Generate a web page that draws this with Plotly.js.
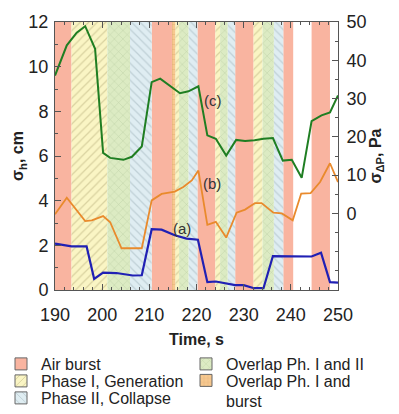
<!DOCTYPE html>
<html><head><meta charset="utf-8">
<script src="https://cdn.plot.ly/plotly-3.0.1.min.js"></script>
<style>html,body{margin:0;padding:0;background:#fff}</style>
</head><body><div id="chart" style="width:399px;height:414px"></div>
<script>
// ---- band intervals (time, s) ----
const burstStart     = [190.0, 210.5, 220.2, 228.2, 238.4, 244.4];
const burstEnd       = [193.5, 214.8, 224.0, 232.1, 240.5, 248.3];
const phase1Start    = [193.5, 215.5, 224.0, 232.1];
const phase1End      = [201.1, 216.3, 225.0, 234.0];
const overlap12Start = [201.1, 216.3, 225.0, 234.0];
const overlap12End   = [205.9, 218.3, 226.6, 236.4];
const phase2Start    = [205.9, 218.3, 226.6, 236.4];
const phase2End      = [210.5, 220.2, 228.2, 238.4];
const overlap1bStart = [214.8];
const overlap1bEnd   = [215.5];

// ---- series ----
const timeA = [190, 193.5, 196.7, 198.3, 200.2, 203, 206.5, 208.4, 210.5, 212.6, 215.4, 217.9, 220.3, 222.3, 224.1, 226, 228.2, 230, 232.2, 234.2, 236.2, 244.4, 246.4, 248.3, 250];
const valsA = [2.08, 1.95, 1.95, 0.5, 0.78, 0.76, 0.65, 0.66, 2.72, 2.7, 2.45, 2.3, 2.25, 0.35, 0.38, 0.3, 0.22, 0.22, 0.08, 0.08, 1.52, 1.5, 1.67, 0.35, 0.33];

const timeB = [190, 192.5, 196.4, 197.8, 200.2, 201.7, 204.1, 208.4, 210.5, 212.6, 215.4, 217.2, 219, 220.4, 222.3, 224.1, 226.3, 228.5, 230.3, 232.4, 233.8, 236.3, 238.1, 240.4, 242.2, 244.2, 246.2, 248.3, 250];
const valsB = [-0.2, 4.1, -2.0, -1.8, -0.7, -2.3, -9.1, -9.1, 3.4, 5.1, 5.7, 6.9, 8.6, 11.2, -3.0, -2.2, -6.3, 0.2, 1.0, 2.7, 2.7, 0.2, 0, -1.8, 5.2, 5.3, 8.2, 13.1, 8.2];

const timeC = [190, 192.5, 194.6, 196.4, 198.5, 200.2, 201.7, 204.5, 206.3, 208.4, 210.5, 212.3, 216.5, 218.3, 220.4, 222.3, 224.1, 226.3, 228.4, 230.3, 232.3, 234.2, 236.2, 238.3, 240.2, 242.3, 244.4, 246.5, 248.3, 250];
const valsC = [36, 43.9, 47.2, 48.9, 43, 15.8, 14.5, 14, 14.8, 17.5, 34.3, 35.2, 31.4, 31.9, 33.2, 20.4, 19.5, 15.1, 19.2, 18.9, 19.1, 19.5, 19.7, 13.8, 14, 9.3, 24.1, 25.6, 26.4, 30.8];

const rightTicks = [0, 10, 20, 30, 40, 50];

const yRange = [0, 12];
const y2Range = [-20, 50];
const xRange = [190, 250];

const FONT = 'Liberation Sans, Arial, Helvetica, sans-serif';
const AX = '#555';
const W = 399, H = 414, ML = 55, MR = 61, MT = 22, MB = 124;

const bandDefs = [
  {name:'Air burst', s:burstStart, e:burstEnd, pat:{shape:'', bgcolor:'#f9b4a0', fgcolor:'#f9b4a0'}, leg:'legend'},
  {name:'Phase I, Generation', s:phase1Start, e:phase1End, pat:{shape:'/', bgcolor:'#faf5c4', fgcolor:'#d9d2a0', size:6, solidity:0.2}, leg:'legend2'},
  {name:'Phase II, Collapse', s:phase2Start, e:phase2End, pat:{shape:'\\', bgcolor:'#dfedf2', fgcolor:'#bfd0d6', size:6, solidity:0.2}, leg:'legend3'},
  {name:'Overlap Ph. I and II', s:overlap12Start, e:overlap12End, pat:{shape:'x', bgcolor:'#dcebc3', fgcolor:'#bfd1a6', size:6, solidity:0.15}, leg:'legend4'},
  {name:'Overlap Ph. I and<br>burst', s:overlap1bStart, e:overlap1bEnd, pat:{shape:'+', bgcolor:'#f7c98f', fgcolor:'#dca872', size:5, solidity:0.15}, leg:'legend5'}
];

const traces = [];
bandDefs.forEach(b => {
  const cx = b.s.map((s,i)=> (s + b.e[i]) / 2);
  const w = b.s.map((s,i)=> b.e[i] - s);
  traces.push({
    type:'bar', name:b.name, showlegend:false, hoverinfo:'skip',
    x: cx, width: w,
    y: b.s.map(()=> yRange[1]),
    base: b.s.map(()=> yRange[0]),
    xaxis:'x', yaxis:'y',
    marker:{color:b.pat.bgcolor, line:{width:0}, pattern: Object.assign({fillmode:'replace'}, b.pat)}
  });
  traces.push({
    type:'bar', name:b.name, legend:b.leg, showlegend:true, hoverinfo:'skip',
    x: cx, width: w, y: b.s.map(()=> null),
    xaxis:'x', yaxis:'y',
    marker:{color:b.pat.bgcolor, line:{width:1, color:'#666'}, pattern: Object.assign({fillmode:'replace'}, b.pat)}
  });
});

traces.push({type:'scatter', mode:'lines', x:timeA, y:valsA, yaxis:'y', showlegend:false,
  line:{color:'#2020b4', width:2.2}});
traces.push({type:'scatter', mode:'lines', x:timeB, y:valsB, yaxis:'y2', showlegend:false,
  line:{color:'#e98a2c', width:1.8}});
traces.push({type:'scatter', mode:'lines', x:timeC, y:valsC, yaxis:'y2', showlegend:false,
  line:{color:'#1f7e22', width:2}});

function legendAt(px, py) {
  return {xref:'paper', yref:'paper', x:(px-ML)/(W-ML-MR), y:(H-MB-py)/(H-MT-MB), xanchor:'left', yanchor:'middle',
    bgcolor:'rgba(0,0,0,0)', borderwidth:0, valign:'top', font:{size:16, family:FONT, color:'#222'}};
}

const layout = {
  width:W, height:H,
  margin:{l:ML, r:MR, t:MT, b:MB, pad:0, autoexpand:false},
  paper_bgcolor:'#fff', plot_bgcolor:'#fff',
  font:{family:FONT, color:'#222'},
  barmode:'overlay',
  showlegend:true,
  legend: legendAt(1, 364),
  legend2: legendAt(1, 381),
  legend3: legendAt(1, 398),
  legend4: legendAt(186, 364),
  legend5: legendAt(186, 391),
  xaxis:{range:xRange, dtick:10, tick0:190, ticks:'inside', ticklen:6, tickcolor:AX,
    showline:true, linecolor:AX, linewidth:1, mirror:'ticks', showgrid:false, zeroline:false,
    tickfont:{size:18, color:'#222'}, ticklabelstandoff:8,
    minor:{dtick:2, ticks:'inside', ticklen:3, tickcolor:AX, showgrid:false},
    title:{text:'<b>Time, s</b>', font:{size:16, color:'#222'}, standoff:10}},
  yaxis:{range:yRange, dtick:2, tick0:0, ticks:'inside', ticklen:6, tickcolor:AX,
    showline:true, linecolor:AX, linewidth:1, mirror:true, showgrid:false, zeroline:false,
    tickfont:{size:18, color:'#222'}, ticklabelstandoff:2,
    minor:{dtick:1, ticks:'inside', ticklen:3, tickcolor:AX, showgrid:false},
    title:{text:'<b>σ<sub>h</sub>, cm</b>', font:{size:16, color:'#222'}, standoff:0}},
  yaxis2:{overlaying:'y', side:'right', range:y2Range, tickmode:'array', tickvals:rightTicks,
    ticks:'inside', ticklen:6, tickcolor:AX, showline:true, linecolor:AX, linewidth:1, showgrid:false, zeroline:false,
    tickfont:{size:18, color:'#222'}, ticklabelstandoff:4,
    minor:{tickmode:'linear', tick0:-20, dtick:5, ticks:'inside', ticklen:3, tickcolor:AX, showgrid:false},
    title:{text:'<b>σ<sub>ΔP</sub>, Pa</b>', font:{size:16, color:'#222'}, standoff:0}},
  annotations:[
    {x:216.9, y:2.76, xref:'x', yref:'y', text:'(a)', showarrow:false, font:{size:15, color:'#333'}},
    {x:223.2, y:7.8, xref:'x', yref:'y2', text:'(b)', showarrow:false, font:{size:15, color:'#333'}},
    {x:223.6, y:29.5, xref:'x', yref:'y2', text:'(c)', showarrow:false, font:{size:15, color:'#333'}}
  ]
};

Plotly.newPlot('chart', traces, layout, {displayModeBar:false, staticPlot:true});
</script>
</body></html>
